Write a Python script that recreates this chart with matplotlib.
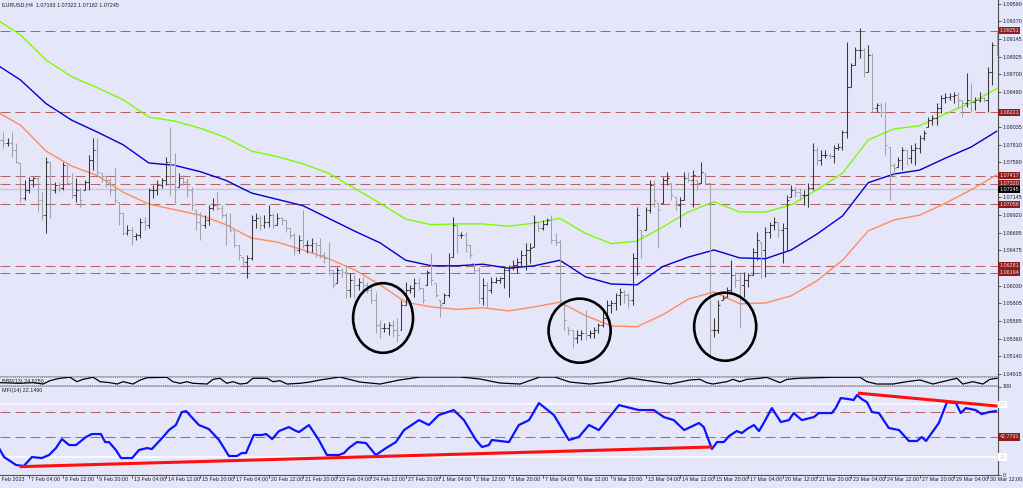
import matplotlib.pyplot as plt
import matplotlib.transforms as mtransforms
from matplotlib.collections import LineCollection
from matplotlib.patches import Ellipse
import numpy as np

plt.rcParams['font.family'] = ['Liberation Sans', 'DejaVu Sans']

# ---- data: EURUSD H4 bars (bar 1 .. 234), open = previous close ----
first_open = 1.0790
highs = [
    1.0802, 1.0797, 1.0790, 1.0797, 1.0783, 1.0758, 1.0736, 1.0740, 1.0740, 1.0740,
    1.0721, 1.0766, 1.0759, 1.0734, 1.0734, 1.0759, 1.0755, 1.0745, 1.0739, 1.0726,
    1.0736, 1.0768, 1.0790, 1.0790, 1.0745, 1.0743, 1.0739, 1.0752, 1.0709, 1.0695,
    1.0680, 1.0677, 1.0669, 1.0688, 1.0690, 1.0726, 1.0730, 1.0736, 1.0739, 1.0766,
    1.0803, 1.0771, 1.0745, 1.0743, 1.0739, 1.0728, 1.0699, 1.0696, 1.0692, 1.0705,
    1.0714, 1.0721, 1.0705, 1.0695, 1.0695, 1.0673, 1.0654, 1.0639, 1.0642, 1.0692,
    1.0695, 1.0692, 1.0692, 1.0705, 1.0695, 1.0695, 1.0690, 1.0686, 1.0676, 1.0669,
    1.0667, 1.0699, 1.0661, 1.0663, 1.0658, 1.0663, 1.0646, 1.0658, 1.0623, 1.0627,
    1.0625, 1.0629, 1.0619, 1.0616, 1.0613, 1.0614, 1.0608, 1.0601, 1.0595, 1.0560,
    1.0556, 1.0557, 1.0560, 1.0562, 1.0585, 1.0608, 1.0604, 1.0613, 1.0613, 1.0600,
    1.0623, 1.0644, 1.0606, 1.0585, 1.0594, 1.0644, 1.0690, 1.0680, 1.0671, 1.0671,
    1.0654, 1.0632, 1.0627, 1.0613, 1.0608, 1.0614, 1.0614, 1.0614, 1.0627, 1.0629,
    1.0635, 1.0638, 1.0648, 1.0657, 1.0657, 1.0692, 1.0683, 1.0686, 1.0688, 1.0692,
    1.0669, 1.0661, 1.0581, 1.0551, 1.0547, 1.0547, 1.0547, 1.0572, 1.0547, 1.0551,
    1.0556, 1.0575, 1.0585, 1.0585, 1.0594, 1.0600, 1.0597, 1.0594, 1.0644, 1.0702,
    1.0673, 1.0702, 1.0736, 1.0736, 1.0707, 1.0740, 1.0747, 1.0733, 1.0715, 1.0715,
    1.0747, 1.0747, 1.0749, 1.0736, 1.0759, 1.0745, 1.0733, 1.0562, 1.0585, 1.0591,
    1.0601, 1.0635, 1.0620, 1.0620, 1.0620, 1.0619, 1.0651, 1.0671, 1.0658, 1.0677,
    1.0683, 1.0690, 1.0683, 1.0682, 1.0718, 1.0730, 1.0728, 1.0726, 1.0724, 1.0733,
    1.0783, 1.0778, 1.0774, 1.0774, 1.0771, 1.0781, 1.0783, 1.0800, 1.0911, 1.0884,
    1.0905, 1.0929, 1.0903, 1.0907, 1.0897, 1.0834, 1.0834, 1.0835, 1.0778, 1.0758,
    1.0766, 1.0778, 1.0774, 1.0781, 1.0783, 1.0793, 1.0800, 1.0816, 1.0819, 1.0834,
    1.0844, 1.0846, 1.0846, 1.0848, 1.0848, 1.0838, 1.0872, 1.0859, 1.0841, 1.0848,
    1.0841, 1.0879, 1.0911, 1.0924,
]
lows = [
    1.0781, 1.0777, 1.0779, 1.0766, 1.0758, 1.0709, 1.0711, 1.0720, 1.0728, 1.0696,
    1.0686, 1.0669, 1.0688, 1.0720, 1.0721, 1.0724, 1.0730, 1.0714, 1.0709, 1.0702,
    1.0724, 1.0724, 1.0749, 1.0743, 1.0734, 1.0728, 1.0718, 1.0707, 1.0680, 1.0667,
    1.0667, 1.0654, 1.0661, 1.0663, 1.0673, 1.0676, 1.0714, 1.0718, 1.0726, 1.0730,
    1.0718, 1.0707, 1.0728, 1.0730, 1.0715, 1.0699, 1.0673, 1.0661, 1.0676, 1.0680,
    1.0699, 1.0699, 1.0688, 1.0654, 1.0671, 1.0652, 1.0635, 1.0627, 1.0613, 1.0635,
    1.0676, 1.0673, 1.0676, 1.0677, 1.0676, 1.0680, 1.0680, 1.0671, 1.0663, 1.0642,
    1.0644, 1.0651, 1.0644, 1.0646, 1.0639, 1.0638, 1.0632, 1.0616, 1.0600, 1.0606,
    1.0614, 1.0587, 1.0589, 1.0587, 1.0597, 1.0597, 1.0594, 1.0581, 1.0543, 1.0537,
    1.0544, 1.0540, 1.0538, 1.0532, 1.0547, 1.0579, 1.0594, 1.0589, 1.0597, 1.0581,
    1.0604, 1.0604, 1.0589, 1.0563, 1.0581, 1.0589, 1.0639, 1.0644, 1.0663, 1.0646,
    1.0638, 1.0619, 1.0581, 1.0579, 1.0576, 1.0594, 1.0606, 1.0606, 1.0600, 1.0589,
    1.0623, 1.0619, 1.0627, 1.0623, 1.0632, 1.0652, 1.0671, 1.0673, 1.0680, 1.0657,
    1.0654, 1.0579, 1.0547, 1.0540, 1.0524, 1.0530, 1.0534, 1.0534, 1.0537, 1.0537,
    1.0543, 1.0551, 1.0562, 1.0568, 1.0572, 1.0579, 1.0581, 1.0575, 1.0579, 1.0616,
    1.0638, 1.0673, 1.0695, 1.0702, 1.0651, 1.0707, 1.0730, 1.0711, 1.0699, 1.0677,
    1.0711, 1.0734, 1.0702, 1.0724, 1.0733, 1.0730, 1.0513, 1.0538, 1.0543, 1.0585,
    1.0589, 1.0594, 1.0601, 1.0549, 1.0589, 1.0601, 1.0616, 1.0635, 1.0613, 1.0614,
    1.0663, 1.0673, 1.0664, 1.0632, 1.0648, 1.0715, 1.0715, 1.0711, 1.0705, 1.0702,
    1.0724, 1.0755, 1.0755, 1.0764, 1.0764, 1.0758, 1.0774, 1.0774, 1.0790, 1.0854,
    1.0882, 1.0891, 1.0867, 1.0873, 1.0822, 1.0822, 1.0816, 1.0768, 1.0711, 1.0740,
    1.0753, 1.0749, 1.0755, 1.0758, 1.0755, 1.0771, 1.0787, 1.0803, 1.0806, 1.0806,
    1.0821, 1.0834, 1.0838, 1.0834, 1.0827, 1.0816, 1.0829, 1.0822, 1.0825, 1.0835,
    1.0835, 1.0822, 1.0857, 1.0894,
]
closes = [
    1.0787, 1.0783, 1.0783, 1.0774, 1.0759, 1.0714, 1.0724, 1.0736, 1.0739, 1.0711,
    1.0692, 1.0759, 1.0724, 1.0730, 1.0726, 1.0755, 1.0733, 1.0718, 1.0724, 1.0711,
    1.0734, 1.0762, 1.0774, 1.0747, 1.0742, 1.0736, 1.0724, 1.0711, 1.0695, 1.0669,
    1.0673, 1.0666, 1.0667, 1.0683, 1.0680, 1.0724, 1.0724, 1.0730, 1.0736, 1.0759,
    1.0755, 1.0724, 1.0739, 1.0734, 1.0724, 1.0705, 1.0683, 1.0680, 1.0686, 1.0701,
    1.0705, 1.0701, 1.0692, 1.0680, 1.0673, 1.0654, 1.0642, 1.0633, 1.0638, 1.0686,
    1.0688, 1.0680, 1.0683, 1.0692, 1.0680, 1.0688, 1.0686, 1.0676, 1.0667, 1.0648,
    1.0661, 1.0654, 1.0654, 1.0657, 1.0654, 1.0642, 1.0638, 1.0623, 1.0604, 1.0623,
    1.0620, 1.0597, 1.0610, 1.0604, 1.0608, 1.0604, 1.0597, 1.0585, 1.0553, 1.0549,
    1.0549, 1.0553, 1.0547, 1.0540, 1.0579, 1.0597, 1.0600, 1.0606, 1.0600, 1.0585,
    1.0620, 1.0610, 1.0591, 1.0579, 1.0591, 1.0638, 1.0680, 1.0667, 1.0667, 1.0654,
    1.0642, 1.0623, 1.0587, 1.0604, 1.0597, 1.0608, 1.0610, 1.0613, 1.0623, 1.0625,
    1.0629, 1.0633, 1.0642, 1.0648, 1.0651, 1.0683, 1.0676, 1.0681, 1.0686, 1.0661,
    1.0658, 1.0585, 1.0560, 1.0547, 1.0537, 1.0540, 1.0543, 1.0540, 1.0543, 1.0547,
    1.0553, 1.0562, 1.0579, 1.0581, 1.0591, 1.0595, 1.0591, 1.0585, 1.0638, 1.0692,
    1.0667, 1.0699, 1.0730, 1.0711, 1.0699, 1.0736, 1.0739, 1.0718, 1.0705, 1.0711,
    1.0739, 1.0736, 1.0743, 1.0733, 1.0747, 1.0733, 1.0547, 1.0547, 1.0579, 1.0587,
    1.0597, 1.0616, 1.0610, 1.0604, 1.0610, 1.0616, 1.0646, 1.0661, 1.0648, 1.0671,
    1.0680, 1.0683, 1.0673, 1.0676, 1.0711, 1.0724, 1.0721, 1.0718, 1.0718, 1.0726,
    1.0774, 1.0762, 1.0768, 1.0768, 1.0767, 1.0777, 1.0778, 1.0797, 1.0854, 1.0882,
    1.0901, 1.0901, 1.0873, 1.0894, 1.0827, 1.0831, 1.0822, 1.0781, 1.0755, 1.0752,
    1.0762, 1.0774, 1.0764, 1.0774, 1.0777, 1.0790, 1.0796, 1.0812, 1.0815, 1.0827,
    1.0840, 1.0841, 1.0843, 1.0844, 1.0838, 1.0834, 1.0838, 1.0835, 1.0838, 1.0840,
    1.0838, 1.0873, 1.0907, 1.0901,
]

# moving averages sampled every 6 bars (bar 0 .. 234)
ma_bars = list(range(0, 235, 6))
ma_green = [1.0941, 1.0920, 1.0888, 1.0867, 1.0853, 1.0838, 1.0816, 1.0811, 1.0802, 1.0790,
            1.0773, 1.0766, 1.0757, 1.0745, 1.0726, 1.0707, 1.0687, 1.0680, 1.0681, 1.0681,
            1.0678, 1.0682, 1.0688, 1.0669, 1.0656, 1.0659, 1.0677, 1.0696, 1.0709, 1.0696,
            1.0696, 1.0705, 1.0724, 1.0745, 1.0787, 1.0801, 1.0805, 1.0820, 1.0834, 1.0852]
ma_blue = [1.0884, 1.0863, 1.0833, 1.0812, 1.0797, 1.0781, 1.0758, 1.0755, 1.0747, 1.0736,
           1.0720, 1.0712, 1.0704, 1.0688, 1.0672, 1.0657, 1.0635, 1.0628, 1.0628, 1.0630,
           1.0625, 1.0628, 1.0635, 1.0614, 1.0605, 1.0604, 1.0627, 1.0639, 1.0648, 1.0638,
           1.0637, 1.0648, 1.0668, 1.0691, 1.0733, 1.0744, 1.0749, 1.0764, 1.0778, 1.0798]
ma_orange = [1.0824, 1.0806, 1.0773, 1.0754, 1.0742, 1.0721, 1.0706, 1.0699, 1.0692, 1.0680,
             1.0663, 1.0658, 1.0648, 1.0637, 1.0623, 1.0604, 1.0582, 1.0576, 1.0573, 1.0575,
             1.0571, 1.0576, 1.0582, 1.0565, 1.0552, 1.0551, 1.0566, 1.0586, 1.0595, 1.0580,
             1.0581, 1.0590, 1.0609, 1.0635, 1.0672, 1.0686, 1.0692, 1.0707, 1.0724, 1.0743]

# horizontal levels
levels = [1.09251, 1.08221, 1.07417, 1.07320, 1.07058, 1.06281, 1.06194]
level_txt = ['1.09251', '1.08221', '1.07417', '1.07320', '1.07058', '1.06281', '1.06194']
bid = 1.07245
price_ticks = [1.09590, 1.09370, 1.09145, 1.08925, 1.08700, 1.08480, 1.08035, 1.07810,
               1.07590, 1.07145, 1.06920, 1.06695, 1.06475, 1.06030, 1.05805, 1.05585,
               1.05360, 1.05140, 1.04915]

# time axis labels every 8 bars
time_labels = ['3 Feb 2023', '7 Feb 04:00', '8 Feb 12:00', '9 Feb 20:00', '13 Feb 04:00',
               '14 Feb 12:00', '15 Feb 20:00', '17 Feb 04:00', '20 Feb 12:00', '21 Feb 20:00',
               '23 Feb 04:00', '24 Feb 12:00', '27 Feb 20:00', '1 Mar 04:00', '2 Mar 12:00',
               '3 Mar 20:00', '7 Mar 04:00', '8 Mar 12:00', '9 Mar 20:00', '13 Mar 04:00',
               '14 Mar 12:00', '15 Mar 20:00', '17 Mar 04:00', '20 Mar 12:00', '21 Mar 20:00',
               '23 Mar 04:00', '24 Mar 12:00', '27 Mar 20:00', '29 Mar 04:00', '30 Mar 12:00']

# MFI(14)
mfi_bars = [1.0, 2.2, 5.0, 6.8, 8.7, 11.0, 12.7, 14.3, 15.7, 17.4, 19.0, 21.3, 22.7, 24.8,
            25.8, 26.7, 28.3, 29.5, 32.1, 33.7, 35.6, 36.7, 39.1, 40.7, 42.3, 43.7, 44.7,
            47.7, 50.0, 52.4, 54.7, 56.6, 57.7, 58.7, 60.5, 62.4, 63.4, 64.8, 66.4, 68.7,
            70.4, 71.1, 73.4, 75.7, 77.6, 80.4, 81.6, 82.7, 84.6, 86.7, 89.0, 91.4, 93.7,
            95.6, 99.1, 101.4, 103.7, 107.2, 109.6, 112.4, 113.8, 115.4, 116.1, 120.1,
            122.4, 124.8, 127.1, 130.6, 134.1, 136.4, 138.8, 141.1, 145.8, 150.4, 153.9,
            156.3, 158.6, 161.0, 164.5, 165.6, 167.5, 168.7, 170.3, 171.5, 173.3, 174.5,
            175.7, 177.3, 178.5, 179.6, 181.5, 183.6, 185.5, 186.6, 188.5, 191.3, 192.5,
            195.5, 196.4, 197.6, 199.5, 200.6, 201.4, 202.5, 203.7, 204.9, 206.5, 208.8,
            211.2, 213.5, 215.4, 216.5, 217.5, 220.5, 222.4, 224.5, 225.6, 226.8, 229.1,
            230.5, 232.2, 233.8]
mfi_vals = [30.2, 20.0, 11.0, 9.9, 20.0, 18.9, 22.3, 30.2, 40.4, 33.6, 33.6, 42.7, 46.1, 46.1,
            37.0, 37.0, 28.0, 18.9, 18.9, 28.0, 30.2, 29.1, 41.6, 50.6, 56.3, 71.0, 72.1,
            56.3, 51.8, 39.3, 21.2, 21.2, 24.6, 24.6, 45.0, 45.0, 46.1, 40.4, 49.5, 54.0,
            49.5, 48.4, 56.3, 39.3, 22.3, 22.3, 24.6, 30.2, 37.0, 35.9, 22.3, 30.2, 37.0,
            50.6, 61.9, 56.3, 67.6, 73.3, 61.9, 39.3, 31.4, 33.6, 39.3, 37.0,
            56.3, 61.9, 81.2, 67.6, 39.3, 42.7, 56.3, 50.6, 78.9, 73.3, 73.3,
            65.3, 61.9, 50.6, 58.6, 54.0, 29.1, 37.0, 37.0, 43.8, 49.5, 47.2,
            51.8, 56.3, 49.5, 58.6, 75.5, 59.7, 61.9, 69.9, 61.9, 65.3, 69.9,
            69.9, 75.5, 86.9, 85.7, 84.6, 90.3, 85.7, 82.3, 71.0, 69.9, 53.0,
            50.6, 38.2, 38.2, 42.7, 38.2, 58.6, 82.3, 81.2, 69.9, 75.5, 73.3,
            68.7, 71.0, 72.1]
mfi_levels = [70.7, 42.7731]
trend_bars = [[5.8, 167.6], [201.6, 234.2]]
trend_vals = [[9.1, 31.4], [92.5, 77.8]]

# small oscillator strip
bbp_bars = [1.2, 5.9, 8.9, 11.3, 12.9, 15.2, 17.6, 19.2, 20.6, 23.0, 24.6, 26.9, 28.6, 30.0,
            32.3, 34.0, 35.6, 40.2, 41.6, 43.3, 44.9, 46.3, 49.6, 51.0, 52.6, 54.2, 55.6,
            57.3, 58.9, 60.3, 63.6, 65.0, 66.6, 68.3, 71.3, 73.6, 76.0, 80.6, 85.3, 90.0,
            94.6, 99.3, 108.7, 113.3, 118.0, 122.7, 127.3, 130.8, 134.3, 139.0, 143.7,
            148.3, 153.0, 157.7, 162.4, 164.7, 166.3, 167.7, 171.0, 172.4, 174.0, 175.7,
            178.7, 180.3, 183.4, 185.0, 188.0, 195.8, 202.1, 203.7, 206.0, 209.8, 213.0,
            216.1, 219.1, 224.7, 226.1, 228.4, 230.8, 232.4, 234.1]
bbp_vals = [37, 30, 37, 22, 59, 86, 97, 48, 74, 97, 48, 37, 22, 48,
            22, 67, 92, 97, 48, 30, 48, 30, 22, 74, 86, 30, 48,
            22, 30, 86, 86, 48, 59, 22, 30, 44, 67, 100, 44, 22,
            67, 100, 100, 78, 33, 22, 100, 100, 44, 22, 44,
            89, 56, 22, 67, 74, 37, 22, 48, 74, 48, 74,
            86, 97, 37, 74, 86, 97, 97, 48, 22, 22, 48,
            67, 22, 86, 22, 48, 22, 74, 86]

# circled areas: (bar, price, width in bars, height in price)
circles = [(90.7, 1.0562, 14.0, 0.0088), (136.6, 1.0546, 14.5, 0.0081), (170.6, 1.0551, 14.5, 0.0086)]

BG = '#e6e6fa'
FS = 3.9
W, H = 1023, 488


def box(x0, y0, x1, y1):
    return [x0 / W, 1 - y1 / H, (x1 - x0) / W, (y1 - y0) / H]


fig = plt.figure(figsize=(W / 100, H / 100), dpi=100)
fig.patch.set_facecolor(BG)

ax = fig.add_axes(box(0, 0, 997.5, 376))
axb = fig.add_axes(box(0, 377, 997.5, 386), sharex=ax)
axm = fig.add_axes(box(0, 386.5, 997.5, 474.7), sharex=ax)

for a in (ax, axb, axm):
    a.set_facecolor(BG)
    a.spines['left'].set_visible(False)
    a.spines['top'].set_visible(False)
    a.spines['bottom'].set_color('#a8a8b8')
    a.spines['right'].set_color('#505050')
    a.spines['right'].set_linewidth(0.8)
    a.yaxis.tick_right()
    a.tick_params(axis='y', length=2, width=0.5, pad=1.5, labelsize=FS, colors='#202020')
    a.tick_params(axis='x', bottom=False, labelbottom=False)
axm.spines['bottom'].set_color('#505050')

ax.set_xlim(1.24, 234.2)
ax.set_ylim(1.04887, 1.0964)

# ---- bars ----
bars = np.arange(1, len(closes) + 1)
hi = np.array(highs)
lo = np.array(lows)
cl = np.array(closes)
op = np.clip(np.r_[first_open, cl[:-1]], lo, hi)
segs, cols = [], []
for b, o, h, l, c in zip(bars, op, hi, lo, cl):
    col = '#3a3a3a' if c >= o else '#a2a2a8'
    segs += [[(b, l), (b, h)], [(b - 0.45, o), (b, o)], [(b, c), (b + 0.45, c)]]
    cols += [col] * 3
ax.add_collection(LineCollection(segs, colors=cols, linewidths=0.75, zorder=4))

# ---- moving averages ----
ax.plot(ma_bars, ma_green, color='#7cfc00', lw=1.0, zorder=3)
ax.plot(ma_bars, ma_blue, color='#0000cd', lw=1.0, zorder=3)
ax.plot(ma_bars, ma_orange, color='#ff8c5a', lw=1.0, zorder=3)

# ---- horizontal levels ----
ytr = mtransforms.blended_transform_factory(ax.transAxes, ax.transData)
for lv, txt in zip(levels, level_txt):
    ax.axhline(lv, color='#b46464', lw=0.75, ls=(0, (9.6, 4.8)), zorder=2)
    ax.text(1.002, lv, txt, transform=ytr, ha='left', va='center', fontsize=FS,
            color='#f0e0e0', clip_on=False, zorder=6,
            bbox=dict(boxstyle='square,pad=0.2', fc='#8b1f1f', ec='none'))
ax.axhline(bid, color='#c8c8d8', lw=1.0, zorder=1)
ax.text(1.002, bid, '1.07245', transform=ytr, ha='left', va='center', fontsize=FS,
        color='white', clip_on=False, zorder=6,
        bbox=dict(boxstyle='square,pad=0.2', fc='black', ec='none'))

ax.set_yticks(price_ticks)
ax.set_yticklabels([f'{p:.5f}' for p in price_ticks])

for b, p, w, h in circles:
    ax.add_patch(Ellipse((b, p), w, h, fill=False, ec='black', lw=1.9, zorder=5))

ax.text(0.002, 0.995, 'EURUSD,H4  1.07193 1.07322 1.07182 1.07245', transform=ax.transAxes,
        ha='left', va='top', fontsize=FS, color='#202020')

# ---- oscillator strip ----
axb.set_ylim(0, 100)
axb.set_yticks([])
axb.spines['bottom'].set_color('#a8a8b8')
axb.axhline(97, color='#e03030', lw=0.6, ls=(0, (1, 1.5)))
axb.axhline(12, color='#e03030', lw=0.6, ls=(0, (1, 1.5)))
axb.plot(bbp_bars, bbp_vals, color='black', lw=0.9, clip_on=True)
axb.text(0.002, 0.5, 'BBP(13) 24.6250', transform=axb.transAxes, ha='left', va='center',
         fontsize=FS, color='#202020')

# ---- MFI ----
axm.set_ylim(0, 100)
axm.set_yticks([0, 100])
axm.set_yticklabels(['0', '100'])
axm.axhline(80, color='white', lw=1.1, zorder=1)
axm.axhline(20, color='white', lw=1.1, zorder=1)
for lv in mfi_levels:
    axm.axhline(lv, color='#b46464', lw=0.75, ls=(0, (9.6, 4.8)), zorder=1)
axm.plot(mfi_bars, mfi_vals, color='#0a14ff', lw=1.6, zorder=3)
for xs, vs in zip(trend_bars, trend_vals):
    axm.plot(xs, vs, color='#ff1010', lw=2.2, zorder=4, solid_capstyle='butt')
mtr = mtransforms.blended_transform_factory(axm.transAxes, axm.transData)
for lv, txt in [(80, '80'), (20, '20')]:
    axm.text(1.002, lv, txt, transform=mtr, ha='left', va='center', fontsize=FS,
             color='#d0d0e0', clip_on=False,
             bbox=dict(boxstyle='square,pad=0.2', fc='white', ec='none'))
axm.text(1.002, 42.7731, '42.7731', transform=mtr, ha='left', va='center', fontsize=FS,
         color='#f0e0e0', clip_on=False,
         bbox=dict(boxstyle='square,pad=0.2', fc='#8b1f1f', ec='none'))
axm.text(0.002, 0.985, 'MFI(14) 22.1490', transform=axm.transAxes, ha='left', va='top',
         fontsize=FS, color='#202020')

# ---- time axis ----
tick_pos = [8 * k for k in range(len(time_labels))]
xtr = mtransforms.blended_transform_factory(axm.transData, axm.transAxes)
lbl_tr = mtransforms.offset_copy(xtr, fig=fig, x=2, y=-2.5, units='dots')
for pos, txt in zip(tick_pos, time_labels):
    axm.text(pos, 0, txt, transform=lbl_tr, ha='left', va='top', fontsize=FS,
             color='#202020', clip_on=False)
    if pos > 1.3:
        axm.plot([pos, pos], [0, -0.035], transform=xtr, color='#505050', lw=0.6,
                 clip_on=False)

fig.savefig('out.png', dpi=100, facecolor=BG)
